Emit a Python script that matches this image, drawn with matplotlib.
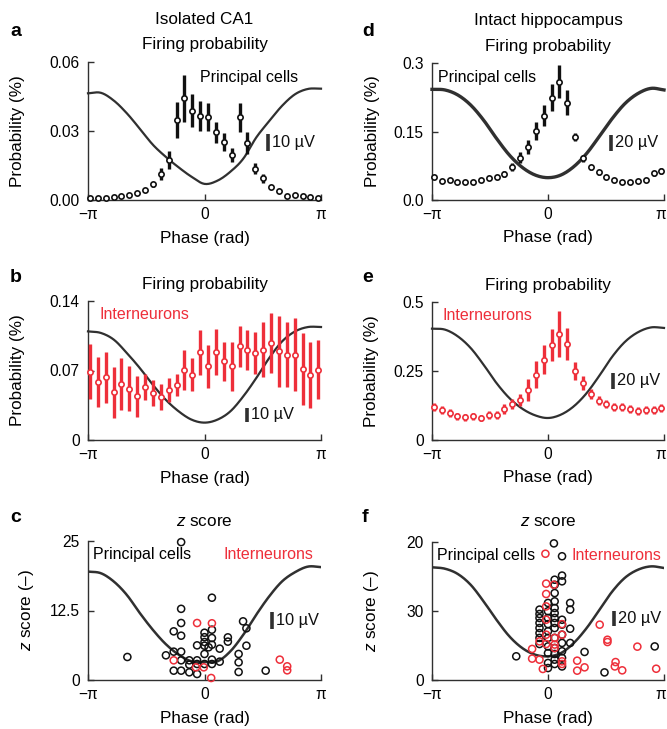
import numpy as np
import matplotlib
matplotlib.use('Agg')
import matplotlib.pyplot as plt
from matplotlib.transforms import ScaledTranslation

plt.rcParams['font.family'] = ['Liberation Sans', 'DejaVu Sans']
plt.rcParams['mathtext.fontset'] = 'custom'
plt.rcParams['mathtext.it'] = 'Liberation Sans:italic'
plt.rcParams['mathtext.rm'] = 'Liberation Sans'

RED = '#EE2F3A'
DARK = '#303030'
BLACK = '#111111'

# ---------------- data ----------------
bin_phase = np.linspace(-3.09, 3.07, 30)
lfp_phase = np.linspace(-np.pi, np.pi, 19)

# a: isolated CA1, principal cells
prob_a = [0.0010, 0.0007, 0.0009, 0.0012, 0.0016, 0.0022, 0.0029, 0.0043, 0.0068, 0.0113,
          0.0175, 0.0348, 0.0442, 0.0388, 0.0367, 0.0362, 0.0294, 0.0251, 0.0196, 0.0359,
          0.0248, 0.0135, 0.0094, 0.0058, 0.0041, 0.0017, 0.0020, 0.0017, 0.0014, 0.0009]
err_a = [0.0004, 0.0004, 0.0004, 0.0004, 0.0004, 0.0005, 0.0005, 0.0006, 0.0012, 0.0028,
         0.0040, 0.0080, 0.0103, 0.0071, 0.0065, 0.0060, 0.0046, 0.0039, 0.0031, 0.0062,
         0.0049, 0.0024, 0.0019, 0.0009, 0.0006, 0.0005, 0.0005, 0.0005, 0.0004, 0.0004]
lfp_a = [0.0464, 0.0466, 0.0432, 0.0377, 0.0310, 0.0241, 0.0188, 0.0142, 0.0101, 0.0070,
         0.0084, 0.0123, 0.0180, 0.0272, 0.0343, 0.0410, 0.0460, 0.0483, 0.0484]

# d: intact hippocampus, principal cells
prob_d = [0.0511, 0.0423, 0.0431, 0.0401, 0.0387, 0.0401, 0.0438, 0.0474, 0.0504, 0.0569,
          0.0730, 0.0927, 0.1168, 0.1518, 0.1847, 0.2240, 0.2590, 0.2130, 0.1387, 0.0912,
          0.0715, 0.0606, 0.0496, 0.0438, 0.0401, 0.0387, 0.0416, 0.0438, 0.0584, 0.0635]
err_d = [0.0036, 0.0036, 0.0036, 0.0036, 0.0036, 0.0036, 0.0036, 0.0036, 0.0040, 0.0060,
         0.0090, 0.0120, 0.0150, 0.0200, 0.0230, 0.0290, 0.0360, 0.0270, 0.0090, 0.0070,
         0.0060, 0.0050, 0.0040, 0.0036, 0.0036, 0.0036, 0.0036, 0.0040, 0.0060, 0.0060]
lfp_d = [0.2423, 0.2410, 0.2300, 0.2080, 0.1750, 0.1350, 0.0985, 0.0715, 0.0547, 0.0489,
         0.0547, 0.0730, 0.1020, 0.1400, 0.1790, 0.2120, 0.2336, 0.2445, 0.2410]

# b: isolated CA1, interneurons
prob_b = [0.0685, 0.0584, 0.0631, 0.0480, 0.0564, 0.0517, 0.0440, 0.0534, 0.0473, 0.0433,
          0.0507, 0.0550, 0.0702, 0.0658, 0.0883, 0.0742, 0.0886, 0.0792, 0.0742, 0.0943,
          0.0910, 0.0876, 0.0910, 0.0977, 0.0893, 0.0859, 0.0859, 0.0718, 0.0658, 0.0708]
err_b = [0.0277, 0.0255, 0.0257, 0.0260, 0.0260, 0.0227, 0.0206, 0.0130, 0.0130, 0.0126,
         0.0120, 0.0110, 0.0203, 0.0168, 0.0227, 0.0215, 0.0235, 0.0200, 0.0247, 0.0206,
         0.0200, 0.0213, 0.0274, 0.0302, 0.0360, 0.0325, 0.0370, 0.0364, 0.0332, 0.0300]
lfp_b = [0.1094, 0.1078, 0.1010, 0.0876, 0.0725, 0.0557, 0.0406, 0.0289, 0.0205, 0.0175,
         0.0205, 0.0289, 0.0440, 0.0624, 0.0826, 0.0994, 0.1094, 0.1138, 0.1138]

# e: intact hippocampus, interneurons
prob_e = [0.1196, 0.1087, 0.0978, 0.0857, 0.0821, 0.0857, 0.0797, 0.0894, 0.0894, 0.1123,
          0.1300, 0.1460, 0.1800, 0.2367, 0.2910, 0.3430, 0.3840, 0.3480, 0.2510, 0.2065,
          0.1667, 0.1425, 0.1316, 0.1196, 0.1184, 0.1123, 0.1039, 0.1075, 0.1099, 0.1160]
err_e = [0.0140, 0.0140, 0.0140, 0.0120, 0.0120, 0.0120, 0.0120, 0.0140, 0.0140, 0.0180,
         0.0180, 0.0220, 0.0400, 0.0480, 0.0520, 0.0580, 0.0850, 0.0580, 0.0330, 0.0270,
         0.0180, 0.0160, 0.0150, 0.0140, 0.0140, 0.0140, 0.0140, 0.0140, 0.0140, 0.0140]
lfp_e = [0.4034, 0.4000, 0.3756, 0.3333, 0.2730, 0.2065, 0.1520, 0.1135, 0.0894, 0.0797,
         0.0918, 0.1220, 0.1700, 0.2340, 0.3030, 0.3570, 0.3910, 0.4080, 0.4060]

# c: isolated CA1, z scores
zc_pc_phase = [-0.63, 0.20, -0.63, -0.63, -0.83, -0.63, 1.04, 1.13, 0.00, 0.20,
               0.20, 0.00, 0.00, -0.20, 0.00, 0.11, 0.20, 0.41, 0.63, 0.63,
               1.13, 0.00, -2.08, -1.04, -0.83, -0.63, 0.92, -0.63, -0.41, -0.20,
               -0.41, -0.20, 0.00, 0.20, 0.41, 0.20, 0.92, -0.83, -0.63, -0.41,
               -0.20, 0.92, 1.65]
zc_pc_z = [24.8, 14.8, 12.8, 10.25, 8.75, 7.97, 10.55, 9.3, 8.5, 9.05,
           7.55, 7.7, 6.83, 6.23, 6.17, 5.88, 6.35, 5.64, 7.67, 6.9,
           6.17, 4.68, 4.14, 4.44, 5.1, 5.1, 4.68, 3.54, 3.54, 3.54,
           2.76, 2.88, 2.88, 3.66, 3.3, 2.88, 3.18, 1.68, 1.68, 1.38,
           1.08, 1.44, 1.68]
zc_in_phase = [-0.20, 0.20, -0.83, -0.23, -0.02, 0.18, 2.03, 2.23, 2.23]
zc_in_z = [10.25, 10.2, 3.54, 2.28, 2.28, 0.36, 3.66, 2.46, 1.74]
lfp_c = [19.5, 19.2, 17.7, 15.3, 12.05, 9.05, 6.47, 4.56, 3.36, 3.24,
         3.36, 5.16, 8.15, 11.75, 15.05, 17.75, 19.4, 20.4, 20.3]

# f: intact hippocampus, z scores
zf_pc_phase = [0.16, 0.38, 0.38, 0.38, 0.18, 0.18, 0.18, 0.18, 0.18, 0.18,
               0.18, 0.18, 0.18, 0.18, 0.18, 0.18, 0.18, 0.18, -0.23, -0.23,
               -0.23, -0.23, -0.23, -0.23, -0.23, -0.23, 0.00, 0.00, 0.00, 0.00,
               0.00, 0.00, 0.00, 0.00, 0.00, 0.00, 0.38, 0.38, 0.38, 0.38,
               0.38, 0.38, 0.38, 0.60, 0.60, 0.60, 0.60, -0.86, 0.99, 1.53, 2.89]
zf_pc_z = [59.4, 53.8, 45.4, 42.9, 43.6, 41.4, 37.8, 34.2, 31.3, 29.1,
           26.96, 24.8, 22.6, 18.3, 13.9, 11.3, 8.84, 6.96, 30.6, 28.7,
           26.96, 24.8, 22.6, 20.4, 18.3, 15.65, 33.5, 29.9, 26.96, 24.3,
           21.2, 18.3, 14.6, 11.7, 7.4, 5.2, 26.2, 24.06, 19.7, 16.1,
           12.5, 9.6, 5.9, 33.5, 30.6, 22.3, 16.1, 10.3, 12.2, 3.3, 14.6]
zf_in_phase = [-0.07, -0.05, 0.16, -0.05, -0.05, -0.05, -0.23, -0.05, -0.05, 0.18,
               0.18, 0.18, 0.38, 0.38, 0.38, 0.38, -0.43, -0.43, -0.23, -0.14,
               0.79, 0.79, 0.99, 1.40, 1.61, 1.61, 1.83, 1.81, 2.01, 2.42, 2.93]
zf_in_z = [54.9, 41.9, 41.4, 37.4, 32.0, 26.2, 16.8, 19.7, 15.65, 18.3,
           15.4, 13.9, 24.3, 19.7, 8.1, 6.96, 13.5, 9.3, 8.84, 4.8,
           8.4, 4.06, 5.5, 24.06, 17.5, 16.5, 7.8, 5.9, 4.2, 14.5, 4.9]
lfp_f = [49.0, 48.4, 46.1, 41.4, 34.2, 26.2, 19.0, 13.9, 11.0, 10.3,
         11.7, 16.1, 22.6, 30.6, 38.6, 44.6, 48.0, 49.4, 48.7]

# ---------------- helpers ----------------
def smooth_curve(x, y, n=12):
    x = np.asarray(x, float)
    y = np.asarray(y, float)
    xp = np.concatenate([[2 * x[0] - x[1]], x, [2 * x[-1] - x[-2]]])
    yp = np.concatenate([[2 * y[0] - y[1]], y, [2 * y[-1] - y[-2]]])
    t = np.linspace(0, 1, n, endpoint=False)
    def cr(a0, a1, a2, a3):
        return 0.5 * (2 * a1 + (-a0 + a2) * t + (2 * a0 - 5 * a1 + 4 * a2 - a3) * t ** 2
                      + (-a0 + 3 * a1 - 3 * a2 + a3) * t ** 3)
    ox, oy = [], []
    for i in range(1, len(xp) - 2):
        ox.append(cr(*xp[i - 1:i + 3]))
        oy.append(cr(*yp[i - 1:i + 3]))
    ox.append([x[-1]])
    oy.append([y[-1]])
    return np.concatenate(ox), np.concatenate(oy)


W, H = 667, 729
fig = plt.figure(figsize=(W / 100, H / 100), dpi=100)


def make_ax(left, top, right, bottom):
    return fig.add_axes([left / W, 1 - bottom / H, (right - left) / W, (bottom - top) / H])


FS = 12.3
TFS = 11.2


def style(ax, ymax, yticks, yticklabels, ylabel, ylab_off, width_px, right_col=False):
    ax.set_xlim(-np.pi, np.pi)
    ax.set_ylim(0, ymax)
    for s in ['top', 'right']:
        ax.spines[s].set_visible(False)
    for s in ['left', 'bottom']:
        ax.spines[s].set_linewidth(1.0)
        ax.spines[s].set_color(DARK)
    ax.set_xticks([-np.pi, 0, np.pi])
    ax.set_xticklabels(['\u2212\u03c0', '0', '\u03c0'])
    ax.set_yticks(yticks)
    ax.set_yticklabels(yticklabels)
    ax.tick_params(direction='in', length=4, width=1.0, color=DARK, labelsize=TFS, pad=5)
    ax.tick_params(axis='y', pad=6)
    if right_col:
        lab = ax.get_xticklabels()[-1]
        lab.set_transform(lab.get_transform() + ScaledTranslation(-3 / 100, 0, fig.dpi_scale_trans))
    ax.text(-ylab_off / width_px, 0.5, ylabel, transform=ax.transAxes, rotation=90,
            ha='center', va='center', fontsize=FS)
    ax.text(0.5, -38 / 138, 'Phase (rad)', transform=ax.transAxes, ha='center',
            va='center', fontsize=FS)


def scalebar(ax, x, y0, y1, label):
    ax.plot([x, x], [y0, y1], transform=ax.transAxes, color=DARK, lw=2.6,
            solid_capstyle='butt', clip_on=False)
    ax.text(x + 0.018, (y0 + y1) / 2, label, transform=ax.transAxes, ha='left',
            va='center', fontsize=FS - 0.5, color=BLACK)


def prob_panel(ax, probs, errs, lfp, color, lfp_lw):
    sx, sy = smooth_curve(lfp_phase, lfp)
    ax.plot(sx, sy, color=DARK, lw=lfp_lw, zorder=2, clip_on=False)
    ax.errorbar(bin_phase, probs, yerr=errs, fmt='o', color=color, ecolor=color,
                elinewidth=2.4, capsize=0, ms=3.8, mfc='white', mec=color, mew=1.2,
                zorder=3, clip_on=False)


ZLABEL = '$z$ score (\u2013)'

# ---------------- panel a ----------------
ax_a = make_ax(88, 62, 321, 200)
prob_panel(ax_a, prob_a, err_a, lfp_a, BLACK, 1.6)
style(ax_a, 0.06, [0, 0.03, 0.06], ['0.00', '0.03', '0.06'], 'Probability (%)', 70, 233)
ax_a.text(0.48, 0.891, 'Principal cells', transform=ax_a.transAxes, ha='left',
          va='center', fontsize=11.5)
scalebar(ax_a, 0.773, 0.355, 0.478, '10 \u00b5V')
ax_a.text(0.5, 1 + 17 / 138, 'Firing probability', transform=ax_a.transAxes,
          ha='center', va='center', fontsize=FS)

# ---------------- panel d ----------------
ax_d = make_ax(432, 63, 664, 200)
prob_panel(ax_d, prob_d, err_d, lfp_d, BLACK, 2.4)
style(ax_d, 0.3, [0, 0.15, 0.3], ['0.0', '0.15', '0.3'], 'Probability (%)', 59, 232, True)
ax_d.text(0.026, 0.891, 'Principal cells', transform=ax_d.transAxes, ha='left',
          va='center', fontsize=11.5)
scalebar(ax_d, 0.772, 0.355, 0.478, '20 \u00b5V')
ax_d.text(0.5, 1 + 17 / 137, 'Firing probability', transform=ax_d.transAxes,
          ha='center', va='center', fontsize=FS)

# ---------------- panel b ----------------
ax_b = make_ax(88, 301, 321, 440)
prob_panel(ax_b, prob_b, err_b, lfp_b, RED, 1.6)
style(ax_b, 0.14, [0, 0.07, 0.14], ['0', '0.07', '0.14'], 'Probability (%)', 70, 233)
ax_b.text(0.05, 0.90, 'Interneurons', transform=ax_b.transAxes, ha='left',
          va='center', fontsize=11.5, color=RED)
scalebar(ax_b, 0.682, 0.13, 0.23, '10 \u00b5V')
ax_b.text(0.5, 1 + 16 / 139, 'Firing probability', transform=ax_b.transAxes,
          ha='center', va='center', fontsize=FS)

# ---------------- panel e ----------------
ax_e = make_ax(432, 302, 664, 440)
prob_panel(ax_e, prob_e, err_e, lfp_e, RED, 1.6)
style(ax_e, 0.5, [0, 0.25, 0.5], ['0', '0.25', '0.5'], 'Probability (%)', 60, 232, True)
ax_e.text(0.047, 0.90, 'Interneurons', transform=ax_e.transAxes, ha='left',
          va='center', fontsize=11.5, color=RED)
scalebar(ax_e, 0.78, 0.367, 0.489, '20 \u00b5V')
ax_e.text(0.5, 1 + 16 / 138, 'Firing probability', transform=ax_e.transAxes,
          ha='center', va='center', fontsize=FS)

# ---------------- panel c ----------------
ax_c = make_ax(88, 541, 321, 680)
sx, sy = smooth_curve(lfp_phase, lfp_c)
ax_c.plot(sx, sy, color=DARK, lw=1.8, zorder=2)
ax_c.scatter(zc_pc_phase, zc_pc_z, s=26, facecolors='none', edgecolors=BLACK,
             linewidths=1.1, zorder=3, clip_on=False)
ax_c.scatter(zc_in_phase, zc_in_z, s=26, facecolors='none', edgecolors=RED,
             linewidths=1.1, zorder=4, clip_on=False)
style(ax_c, 25, [0, 12.5, 25], ['0', '12.5', '25'], ZLABEL, 61, 233)
ax_c.text(0.021, 0.90, 'Principal cells', transform=ax_c.transAxes, ha='left',
          va='center', fontsize=11.5)
ax_c.text(0.58, 0.90, 'Interneurons', transform=ax_c.transAxes, ha='left',
          va='center', fontsize=11.5, color=RED)
scalebar(ax_c, 0.79, 0.367, 0.489, '10 \u00b5V')
ax_c.text(0.5, 1 + 20 / 139, r'$z$ score', transform=ax_c.transAxes,
          ha='center', va='center', fontsize=FS)

# ---------------- panel f ----------------
ax_f = make_ax(432, 542, 664, 680)
sx, sy = smooth_curve(lfp_phase, lfp_f)
ax_f.plot(sx, sy, color=DARK, lw=1.8, zorder=2)
ax_f.scatter(zf_pc_phase, zf_pc_z, s=26, facecolors='none', edgecolors=BLACK,
             linewidths=1.1, zorder=3, clip_on=False)
ax_f.scatter(zf_in_phase, zf_in_z, s=26, facecolors='none', edgecolors=RED,
             linewidths=1.1, zorder=4, clip_on=False)
style(ax_f, 60, [0, 30, 60], ['0', '30', '20'], ZLABEL, 60, 232, True)
ax_f.text(0.022, 0.90, 'Principal cells', transform=ax_f.transAxes, ha='left',
          va='center', fontsize=11.5)
ax_f.text(0.60, 0.90, 'Interneurons', transform=ax_f.transAxes, ha='left',
          va='center', fontsize=11.5, color=RED)
scalebar(ax_f, 0.784, 0.39, 0.50, '20 \u00b5V')
ax_f.text(0.5, 1 + 20 / 138, r'$z$ score', transform=ax_f.transAxes,
          ha='center', va='center', fontsize=FS)

# ---------------- column titles & panel letters ----------------
fig.text(204.5 / W, 1 - 20 / H, 'Isolated CA1', ha='center', va='center', fontsize=FS)
fig.text(548 / W, 1 - 20 / H, 'Intact hippocampus', ha='center', va='center', fontsize=FS)
for letter, (px, py) in {'a': (10, 32), 'b': (10, 277), 'c': (10, 518),
                         'd': (362, 32), 'e': (362, 278), 'f': (362, 517)}.items():
    fig.text(px / W, 1 - py / H, letter, ha='left', va='center', fontsize=14,
             fontweight='bold')

fig.savefig('out.png', dpi=100)
